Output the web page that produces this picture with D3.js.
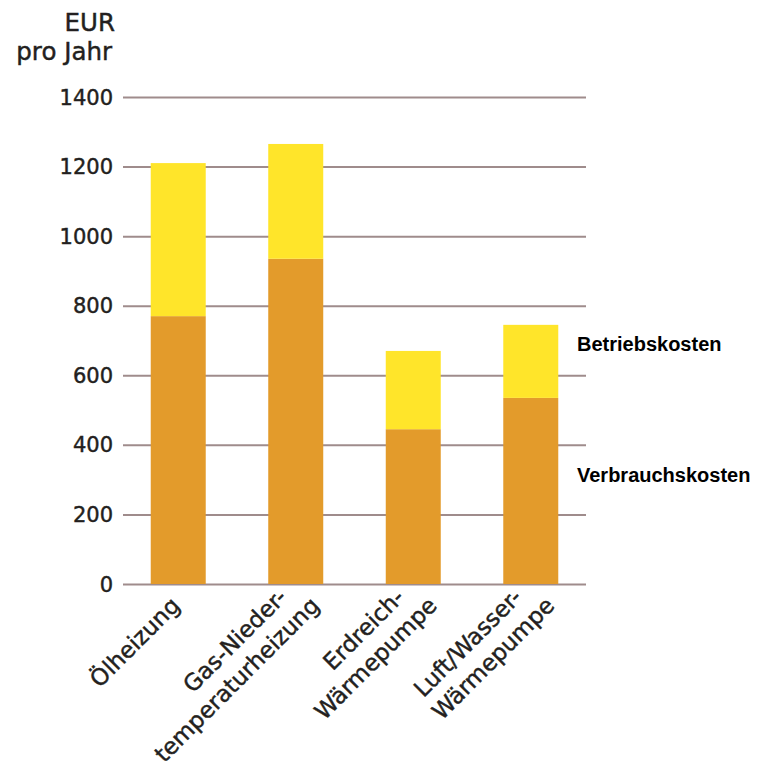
<!DOCTYPE html>
<html>
<head>
<meta charset="utf-8">
<script src="https://cdn.jsdelivr.net/npm/d3@7"></script>
<style>
  html, body { margin: 0; padding: 0; background: #fff; }
  svg { display: block; }
</style>
</head>
<body>
<svg id="chart" width="763" height="773"></svg>
<script>
// Heating systems compared by annual cost (EUR per year)
const categories = [
  ["Ölheizung"],
  ["Gas-Nieder-", "temperaturheizung"],
  ["Erdreich-", "Wärmepumpe"],
  ["Luft/Wasser-", "Wärmepumpe"]
];
const verbrauchskosten = [770, 935, 445, 535];   // consumption costs
const betriebskosten   = [440, 330, 225, 210];   // operating costs
const yTicks = [0, 200, 400, 600, 800, 1000, 1200, 1400];
const seriesNames = ["Verbrauchskosten", "Betriebskosten"];
const seriesColors = ["#e39b2b", "#ffe52a"];

const svg = d3.select("#chart");
const labelFont = "'DejaVu Sans', sans-serif";
const textColor = "#231f20";

const plotLeft = 123, plotRight = 586;
const y = d3.scaleLinear().domain([0, 1400]).range([584, 97]);
const keys = categories.map(c => c.join(" "));
const x = d3.scaleBand().domain(keys).range([plotLeft, plotRight])
  .paddingInner(0.532).paddingOuter(0.236);

// stacked data
const rows = keys.map((k, i) => ({ key: k, Verbrauchskosten: verbrauchskosten[i], Betriebskosten: betriebskosten[i] }));
const stacked = d3.stack().keys(seriesNames)(rows);

// slightly heavier strokes for the axis text
function medium(sel) {
  return sel.attr("stroke", textColor).attr("stroke-width", 0.45).attr("paint-order", "stroke");
}

// grid lines
const yAxis = d3.axisLeft(y).tickValues(yTicks).tickSize(-(plotRight - plotLeft)).tickFormat("");
const grid = svg.append("g").attr("transform", `translate(${plotLeft},0)`).call(yAxis);
grid.select(".domain").remove();
grid.selectAll(".tick line").attr("stroke", "#9f8c8c").attr("stroke-width", 2);

// tick labels
svg.append("g").selectAll("text").data(yTicks).join("text")
  .attr("x", 113).attr("y", d => y(d) + 7.5)
  .attr("text-anchor", "end")
  .attr("font-family", labelFont).attr("font-size", 21)
  .attr("fill", textColor)
  .call(medium)
  .text(d => d);

// axis unit
svg.append("text").attr("x", 115).attr("y", 31).attr("text-anchor", "end")
  .attr("font-family", labelFont).attr("font-size", 24.5).attr("fill", textColor)
  .call(medium).text("EUR");
svg.append("text").attr("x", 112).attr("y", 60).attr("text-anchor", "end")
  .attr("font-family", labelFont).attr("font-size", 24.5).attr("fill", textColor)
  .call(medium).text("pro Jahr");

// bars
svg.append("g").selectAll("g").data(stacked).join("g")
  .attr("fill", (d, i) => seriesColors[i])
  .selectAll("rect").data(d => d).join("rect")
  .attr("x", d => x(d.data.key))
  .attr("width", x.bandwidth())
  .attr("y", d => y(d[1]))
  .attr("height", d => y(d[0]) - y(d[1]));

// rotated category labels
const xl = svg.append("g").selectAll("g").data(categories).join("g")
  .attr("transform", (d, i) =>
    `translate(${x(keys[i]) + x.bandwidth() / 2 + 3 + 22 * (d.length - 1)},607) rotate(-45)`);
xl.each(function (lines) {
  const g = d3.select(this);
  const n = lines.length;
  lines.forEach((line, j) => {
    const back = n - 1 - j;
    g.append("text")
      .attr("x", -17 * back).attr("y", -29 * back)
      .attr("text-anchor", "end")
      .attr("font-family", labelFont).attr("font-size", 23)
      .attr("fill", textColor)
      .call(medium)
      .text(line);
  });
});

// legend labels beside the last bar
const legendY = { Betriebskosten: 351, Verbrauchskosten: 482 };
svg.append("g").selectAll("text").data(seriesNames).join("text")
  .attr("x", 577).attr("y", d => legendY[d])
  .attr("font-family", "'Liberation Sans', Arial, sans-serif")
  .attr("font-weight", "bold").attr("font-size", 20)
  .attr("fill", "#000")
  .text(d => d);
</script>
</body>
</html>
